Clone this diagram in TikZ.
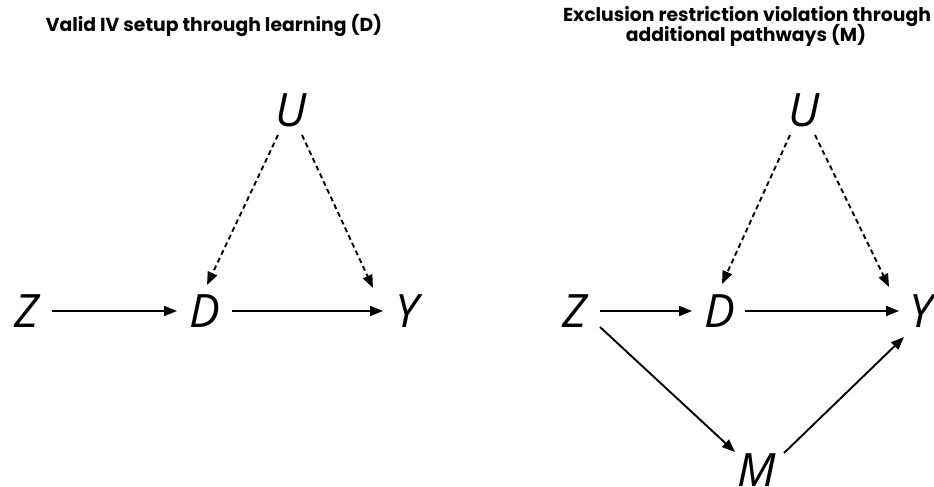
\documentclass[tikz,border=0pt]{standalone}
\usepackage{fontspec}
\usetikzlibrary{arrows.meta,calc}
\newfontfamily\varfont{Open Sans}
\newfontfamily\titlefont{Poppins}
\begin{document}
\begin{tikzpicture}[x=1pt,y=-1pt,
  var/.style={inner sep=0pt,font=\varfont\itshape\fontsize{46}{46}\selectfont},
  ttl/.style={inner sep=0pt,anchor=base,font=\titlefont\bfseries\fontsize{18.8}{22}\selectfont},
  edge/.style={line width=1.9pt,-{Triangle[length=13pt,width=10pt]}},
  conf/.style={edge,dash pattern=on 5pt off 3.5pt}]
\useasboundingbox (0,0) rectangle (934,487);
% titles
\node[ttl] (t1) at (214,32) {Valid IV setup through learning (D)};
\node[ttl] (t2a) at (747,22) {Exclusion restriction violation through};
\node[ttl] (t2b) at (746,42) {additional pathways (M)};
% left graph
\node[var] (Z1) at (27,311) {Z};
\node[var] (D1) at (205,311) {D};
\node[var] (Y1) at (407,311) {Y};
\node[var] (U1) at (291,110) {U};
\draw[edge] ($(Z1)+(25,0)$) -- ($(D1)+(-28,0)$);
\draw[edge] ($(D1)+(27,0)$) -- ($(Y1)+(-24,0)$);
\draw[conf] ($(U1)+(-13,25)$) -- ($(D1)+(2,-26)$);
\draw[conf] ($(U1)+(11,25)$) -- ($(Y1)+(-34,-23)$);
% right graph
\node[var] (Z2) at (575,311) {Z};
\node[var] (D2) at (720,311) {D};
\node[var] (Y2) at (921,311) {Y};
\node[var] (U2) at (804,110) {U};
\node[var] (M2) at (757,470) {M};
\draw[edge] ($(Z2)+(25,0)$) -- ($(D2)+(-28,0)$);
\draw[edge] ($(D2)+(25,0)$) -- ($(Y2)+(-22,0)$);
\draw[conf] ($(U2)+(-14,25)$) -- ($(D2)+(2,-27)$);
\draw[conf] ($(U2)+(11,25)$) -- ($(Y2)+(-32,-24)$);
\draw[edge] ($(Z2)+(25,16)$) -- ($(M2)+(-22,-18)$);
\draw[edge] ($(M2)+(27,-17)$) -- ($(Y2)+(-17,26)$);
\end{tikzpicture}
\end{document}
